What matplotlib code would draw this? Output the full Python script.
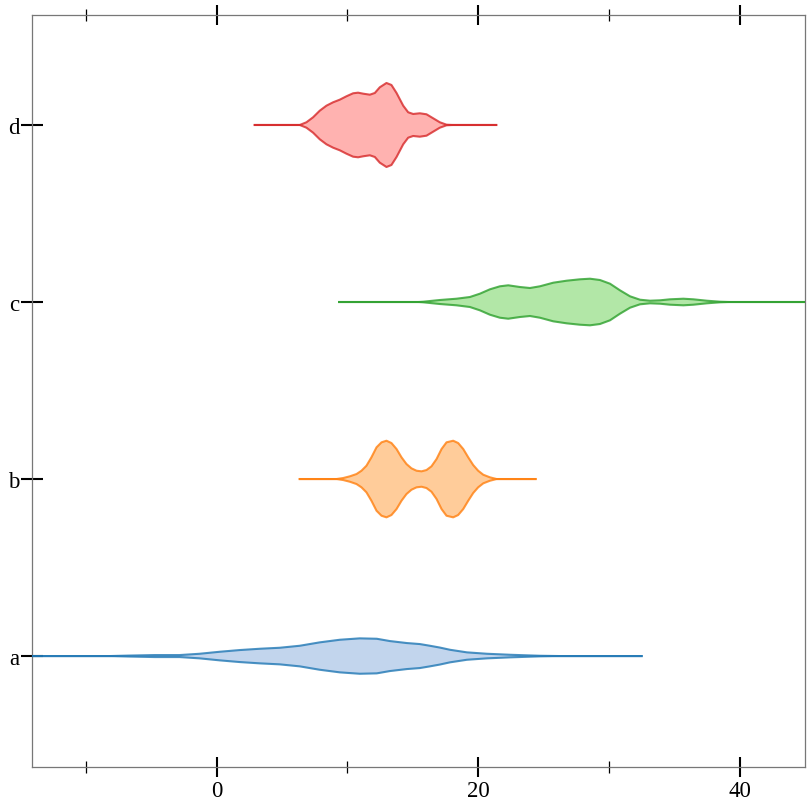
import matplotlib
matplotlib.use("Agg")
import matplotlib.pyplot as plt
from matplotlib.ticker import MultipleLocator

categories = ["a", "b", "c", "d"]

# data extent (min, max) of each group -> horizontal line
a_extent = [-16.0, 32.57]
b_extent = [6.27, 24.46]
c_extent = [9.28, 50.0]
d_extent = [2.83, 21.45]

# density profiles (x value, relative half-width)
a_x = [-8.19, -6.66, -4.74, -2.83, -1.30, 0.23, 1.76, 3.29, 4.82, 6.35, 7.88, 9.41,
       10.94, 12.24, 13.24, 14.54, 15.53, 16.30, 17.06, 17.83, 19.13, 20.66, 22.42, 24.71, 26.24]
a_w = [0, 0.5, 1, 1, 2.3, 4.3, 6, 7.3, 8.3, 10.3, 13.7, 16.3,
       17.7, 17.3, 15, 13, 12, 10.3, 8.5, 6.3, 3.7, 2.3, 1.3, 0.3, 0]

b_x = [9.16, 9.67, 10.18, 10.69, 11.07, 11.45, 11.83, 12.22, 12.60, 12.98, 13.36, 13.75,
       14.13, 14.51, 14.89, 15.28, 15.66, 16.04, 16.42, 16.81, 17.19, 17.57, 18.08, 18.46,
       18.85, 19.23, 19.61, 19.99, 20.38, 20.89, 21.40]
b_w = [0, 1, 2.7, 5, 8.3, 13.3, 21.7, 31.7, 36.7, 38.3, 36, 30,
       21.7, 15, 10.7, 8.3, 7.7, 9, 12.7, 20, 30, 36.7, 38.3, 36,
       30, 21.7, 14, 8.3, 4.3, 1.7, 0]

c_x = [15.40, 15.79, 17.06, 18.34, 19.36, 20.12, 20.89, 21.65, 22.29, 23.18, 23.95, 24.71,
       25.73, 26.75, 27.77, 28.54, 29.30, 30.07, 30.83, 31.60, 32.36, 33.13, 33.89, 34.66,
       35.68, 36.44, 37.47, 38.48, 39.25]
c_w = [0, 0.3, 2, 3.3, 5, 8.3, 12.7, 15.7, 16.7, 15, 14, 15.7,
       19.3, 21.3, 22.7, 23.3, 22, 18.3, 11.7, 5.7, 2.3, 1.3, 1.7, 2.7,
       3.3, 2.7, 1.3, 0.3, 0]

d_x = [6.35, 6.86, 7.37, 7.88, 8.39, 8.90, 9.41, 9.92, 10.43, 10.81, 11.20, 11.71, 12.09,
       12.47, 12.98, 13.36, 13.75, 14.26, 14.64, 15.02, 15.53, 16.04, 16.55, 17.06, 17.57, 18.08]
d_w = [0, 2.7, 7.7, 14.3, 19.3, 22.7, 25.3, 28.7, 31.7, 32.3, 31.3, 30.3, 32,
       37.7, 42, 40, 32, 19.3, 12.7, 11, 11.7, 10.7, 6.7, 2.7, 0.3, 0]

x_ticks_major = [0, 20, 40]
x_tick_labels = ["0", "20", "40"]

profiles = [(a_extent, a_x, a_w), (b_extent, b_x, b_w), (c_extent, c_x, c_w), (d_extent, d_x, d_w)]
stroke_colors = ["#1f77b4", "#ff7f0e", "#2ca02c", "#d62728"]
fill_colors = ["#aec7e8", "#ffbb78", "#98df8a", "#ff9896"]
width_scale = 1.0 / 177.0

fig = plt.figure(figsize=(8.12, 8.12), dpi=100)
ax = fig.add_axes([32 / 812, 1 - 767.7 / 812, (805.3 - 32) / 812, (767.7 - 15.7) / 812])

for i, (ext, xs, ws) in enumerate(profiles):
    xf = [ext[0]] + list(xs) + [ext[1]]
    wf = [0] + list(ws) + [0]
    top = [i + w * width_scale for w in wf]
    bot = [i - w * width_scale for w in wf]
    ax.fill_between(xf, bot, top, facecolor=fill_colors[i], alpha=0.75, linewidth=0, zorder=2)
    ax.plot(xf, top, color=stroke_colors[i], alpha=0.8, lw=1.5, zorder=3,
            solid_capstyle="butt", solid_joinstyle="round")
    ax.plot(xf, bot, color=stroke_colors[i], alpha=0.8, lw=1.5, zorder=3,
            solid_capstyle="butt", solid_joinstyle="round")

ax.set_xlim(-14.12, 45.0)
ax.set_ylim(-0.625, 3.623)
ax.set_yticks(range(len(categories)))
ax.set_yticklabels(categories)
ax.set_xticks(x_ticks_major)
ax.set_xticklabels(x_tick_labels)
ax.xaxis.set_minor_locator(MultipleLocator(10))

for s in ax.spines.values():
    s.set_color("#777777")
    s.set_linewidth(0.9)

ax.tick_params(axis="x", which="major", direction="inout", length=15, width=1.5,
               color="black", top=True, labeltop=False, bottom=True, pad=2)
ax.tick_params(axis="x", which="minor", direction="inout", length=8, width=0.9,
               color="black", top=True, bottom=True)
ax.tick_params(axis="y", which="major", direction="inout", length=16, width=1.5,
               color="black", left=True, right=False, pad=1)
for lab in ax.get_xticklabels() + ax.get_yticklabels():
    lab.set_fontfamily("Liberation Serif")
    lab.set_fontsize(16.5)

fig.savefig("out.png", dpi=100)
